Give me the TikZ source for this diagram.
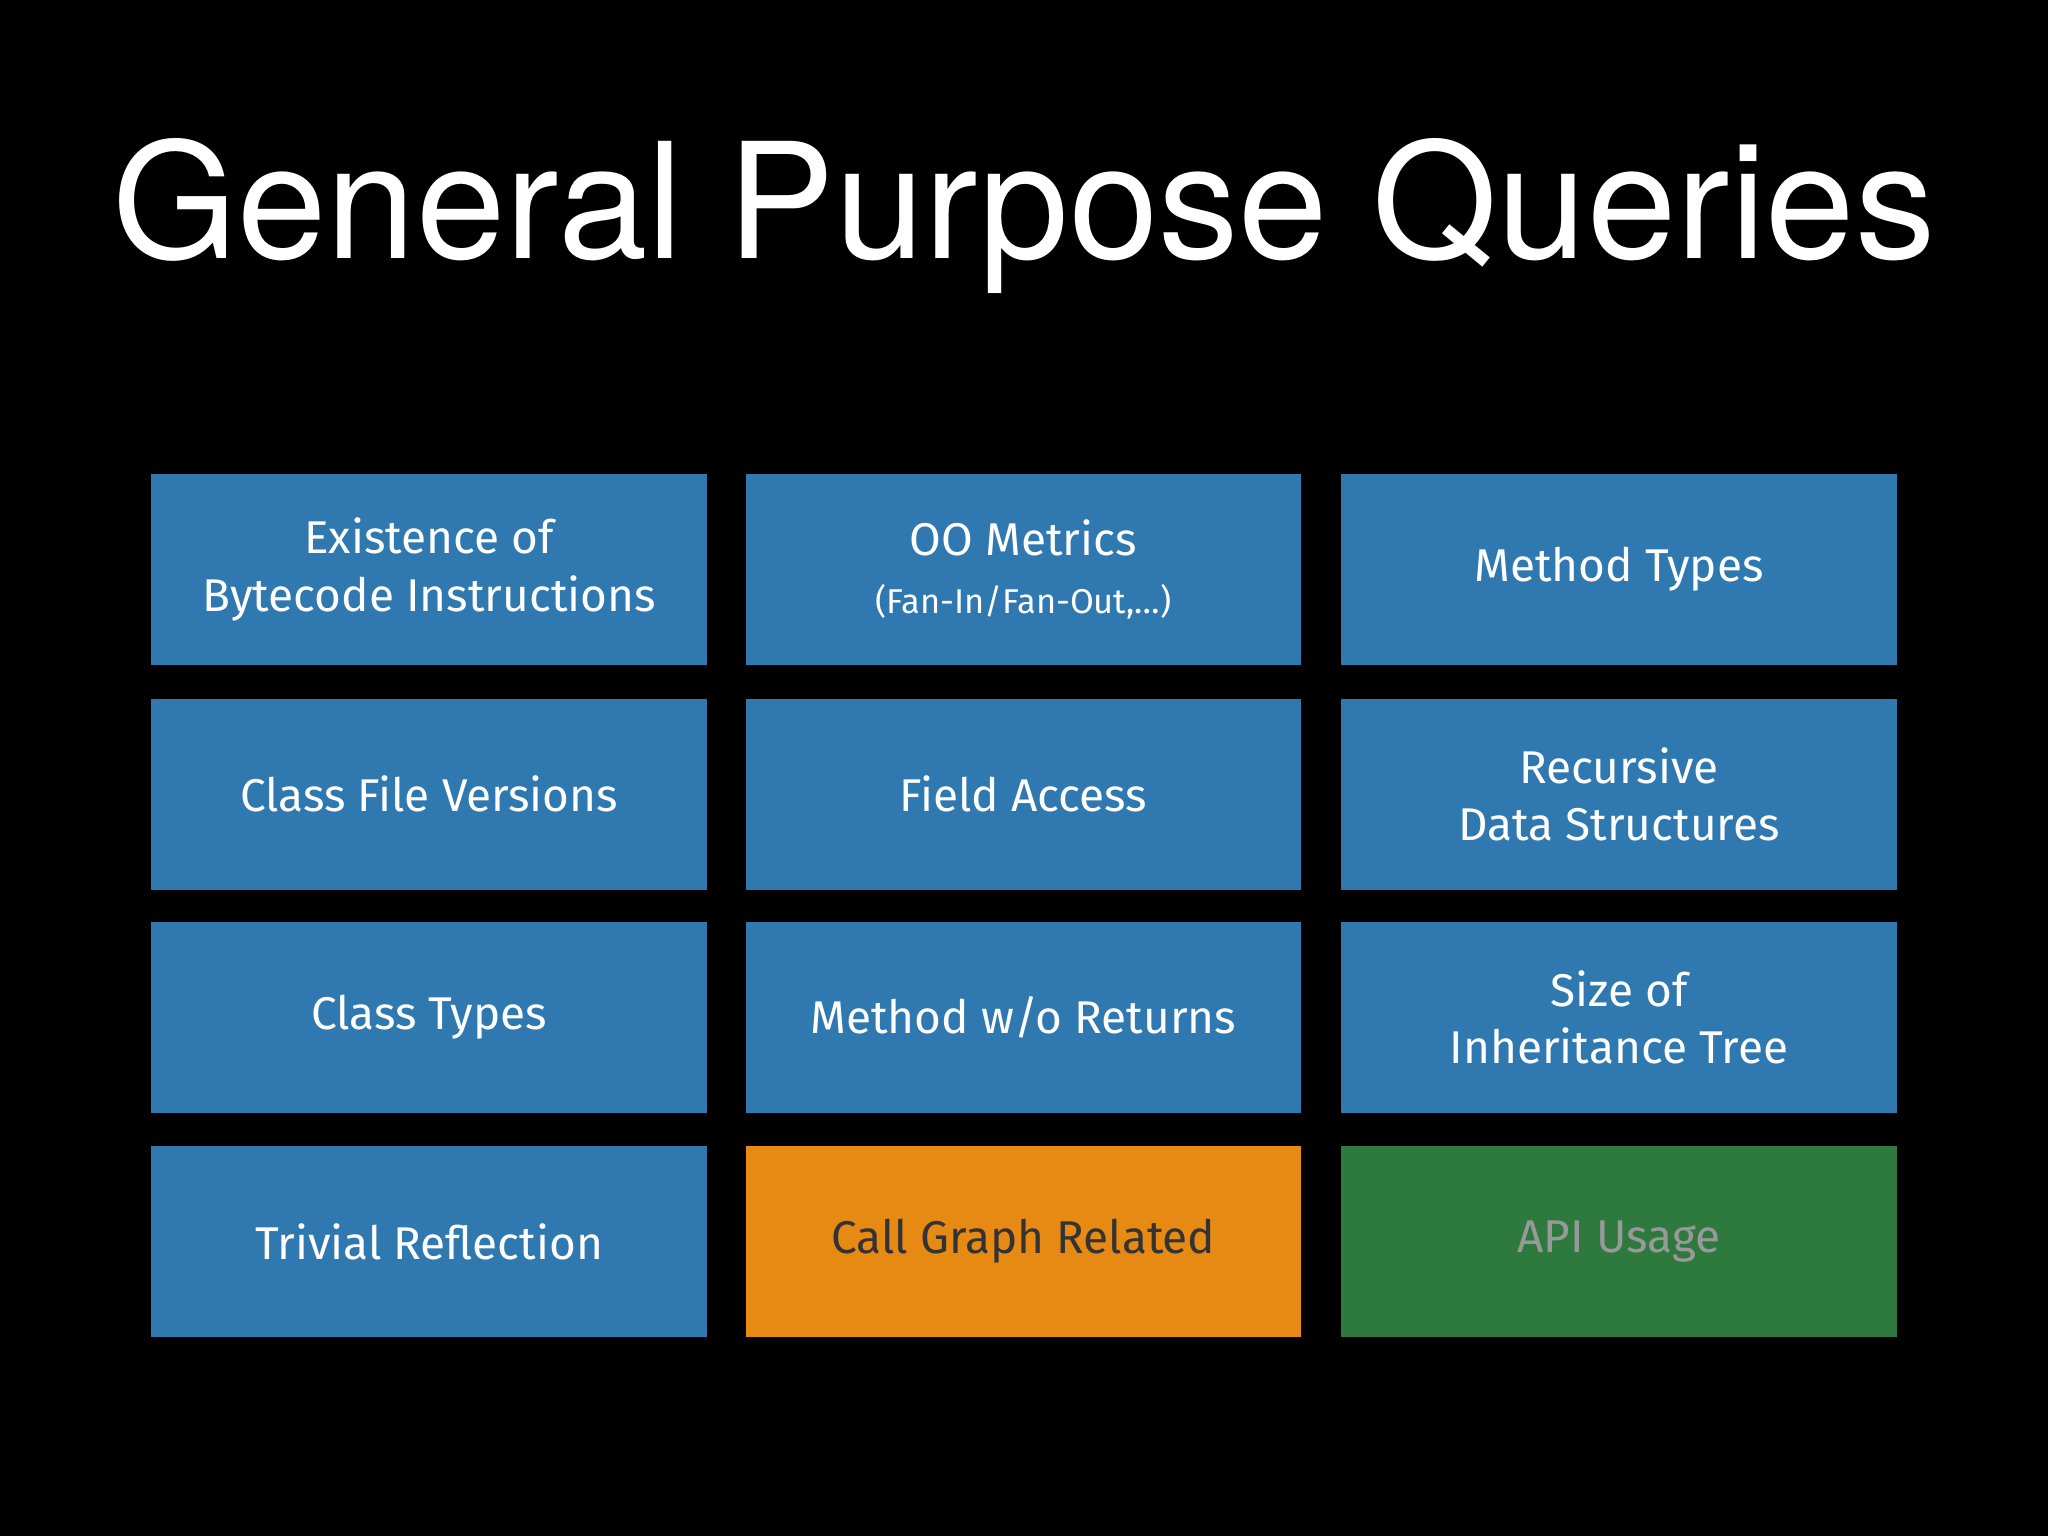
\documentclass[tikz,border=0pt]{standalone}
\usepackage{fontspec}
\setmainfont{Fira Sans}
\newfontfamily\titlefont{TeX Gyre Heros}
\begin{document}
\begin{tikzpicture}[x=0.01cm,y=-0.01cm,
  box/.style={minimum width=4.25cm,minimum height=1.46cm,inner sep=0pt,align=center,font=\fontsize{10pt}{12.5pt}\selectfont,text=white},
  blue/.style={box,fill=qblue},
  ]
\definecolor{qblue}{HTML}{2F78B0}
\definecolor{qorange}{HTML}{E68A14}
\definecolor{qgreen}{HTML}{2E7A3E}
\fill[black] (0,0) rectangle (1568,1176);
\node[text=white,font=\titlefont\fontsize{35pt}{40pt}\selectfont] (title) at (784,165) {General Purpose Queries};
\node[blue] (a1) at (328.5,436) {Existence of\\Bytecode Instructions};
\node[blue] (a2) at (783.5,436) {OO Metrics\\{\fontsize{7.5pt}{10pt}\selectfont (Fan-In/Fan-Out,\ldots)}};
\node[blue] (a3) at (1239.5,436) {Method Types};
\node[blue] (b1) at (328.5,608) {Class File Versions};
\node[blue] (b2) at (783.5,608) {Field Access};
\node[blue] (b3) at (1239.5,608) {Recursive\\Data Structures};
\node[blue] (c1) at (328.5,779) {Class Types};
\node[blue] (c2) at (783.5,779) {Method w/o Returns};
\node[blue] (c3) at (1239.5,779) {Size of\\Inheritance Tree};
\node[blue] (d1) at (328.5,950.5) {Trivial Reflection};
\node[box,fill=qorange,text=black!80] (d2) at (783.5,950.5) {Call Graph Related};
\node[box,fill=qgreen,text=gray!80] (d3) at (1239.5,950.5) {API Usage};
\end{tikzpicture}
\end{document}
